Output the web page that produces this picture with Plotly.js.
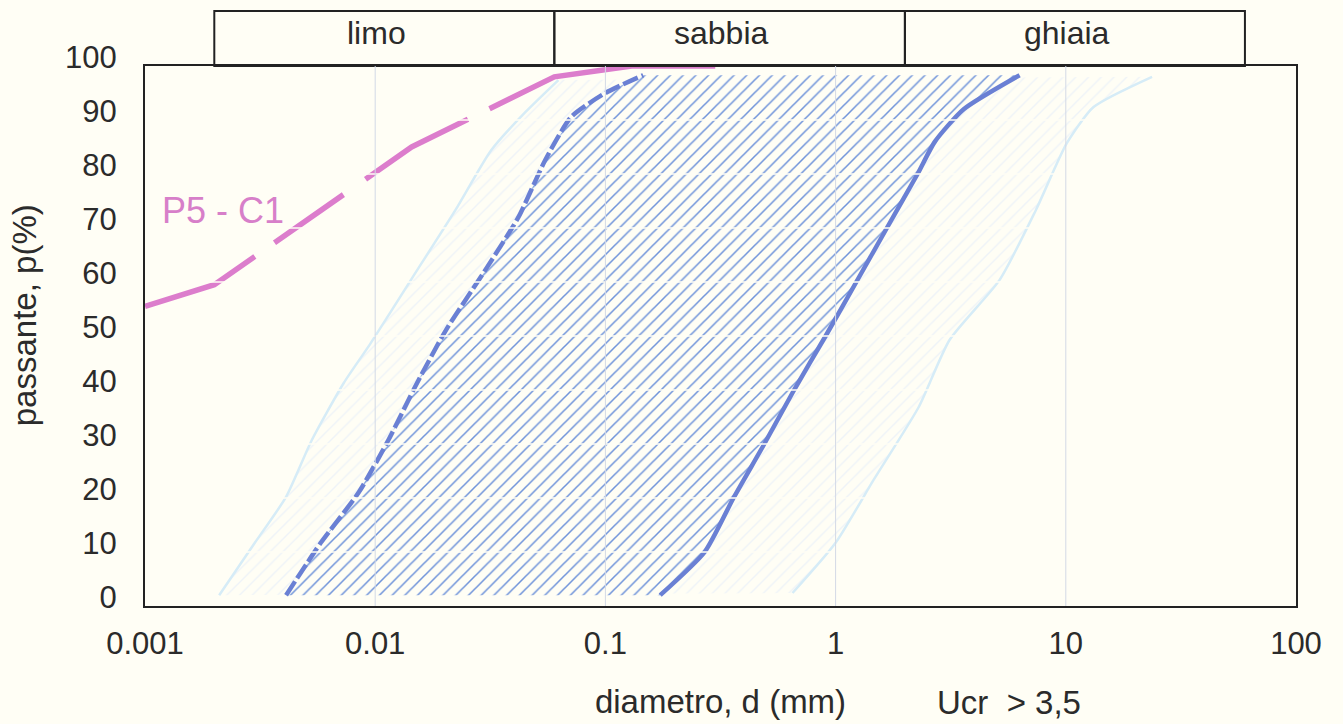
<!DOCTYPE html>
<html>
<head>
<meta charset="utf-8">
<script src="https://cdn.plot.ly/plotly-3.0.1.min.js"></script>
<style>
html,body{margin:0;padding:0;background:#fffef5;}
#chart{width:1343px;height:724px;}
</style>
</head>
<body>
<div id="chart"></div>
<script>
// ---- tick labels ----
const xTickVals = [0.001, 0.01, 0.1, 1, 10, 100];
const xTickText = ['0.001', '0.01', '0.1', '1', '10', '100'];
const yTickVals = [0, 10, 20, 30, 40, 50, 60, 70, 80, 90, 100];

// ---- soil classes (band header) ----
const bandNames = ['limo', 'sabbia', 'ghiaia'];
const bandEdges = [0.002, 0.06, 2, 60];

// ---- sample curve P5 - C1 ----
const sampleName = 'P5 - C1';
const sampleD = [0.001, 0.002, 0.0144, 0.06, 0.13, 0.3];
const sampleP = [55.5, 59.5, 85, 98, 100, 100];

// ---- critical envelope (Ucr > 3,5): fine / coarse boundary ----
const fineDarkD = [0.0041, 0.0058, 0.0085, 0.0114, 0.0152, 0.0203, 0.0307, 0.0419, 0.0548, 0.0711, 0.1, 0.146];
const fineDarkP = [2, 11.7, 21.1, 30.7, 41.3, 51.1, 62.8, 72, 82.6, 90.6, 95, 98.3];
const coarseDarkD = [0.173, 0.27, 0.36, 0.49, 0.66, 0.905, 1.23, 1.67, 2.27, 2.7, 3.6, 6.3];
const coarseDarkP = [2, 10, 20, 30, 40, 50, 60, 70, 80, 86, 92, 98.3];

// ---- outer (faint) envelope ----
const fineLightD = [0.0021, 0.003, 0.0041, 0.0053, 0.0073, 0.0095, 0.0146, 0.0223, 0.0319, 0.045, 0.0625];
const fineLightP = [2, 11.7, 20.2, 30.7, 41.3, 48.5, 61, 73.3, 84.4, 91.5, 97.4];
const coarseLightD = [0.65, 1.0, 1.46, 2.3, 3.13, 5.16, 7.41, 10.1, 13.2, 23.7];
const coarseLightP = [2.4, 11.7, 23.3, 36.9, 49.3, 60.4, 73.3, 85.7, 92.4, 98];

const note = 'Ucr&nbsp;&nbsp;&gt; 3,5';

const BG = '#fffef5';
const FONT = 'Liberation Sans, Arial, sans-serif';
const TXT = '#2b2b2b';

const traces = [
  { // faint outer hatch
    x: fineLightD.concat(coarseLightD.slice().reverse()),
    y: fineLightP.concat(coarseLightP.slice().reverse()),
    mode: 'lines', line: {width: 0}, fill: 'toself',
    fillcolor: BG,
    fillpattern: {shape: '/', size: 9, solidity: 0.15, fgcolor: '#eef3f8', bgcolor: BG},
    hoverinfo: 'skip'
  },
  { // inner hatched envelope
    x: fineDarkD.concat(coarseDarkD.slice().reverse()),
    y: fineDarkP.concat(coarseDarkP.slice().reverse()),
    mode: 'lines', line: {width: 0}, fill: 'toself',
    fillcolor: BG,
    fillpattern: {shape: '/', size: 9, solidity: 0.17, fgcolor: '#6f93da', bgcolor: BG},
    hoverinfo: 'skip'
  },
  {x: fineLightD, y: fineLightP, mode: 'lines', line: {color: '#d6ecf7', width: 2.5, shape: 'spline', smoothing: 0.6}, hoverinfo: 'skip'},
  {x: coarseLightD, y: coarseLightP, mode: 'lines', line: {color: '#d6ecf7', width: 2.5, shape: 'spline', smoothing: 0.6}, hoverinfo: 'skip'},
  {x: fineDarkD, y: fineDarkP, mode: 'lines', line: {color: '#6a80d4', width: 4.5, dash: '16px,4px', shape: 'spline', smoothing: 0.6}},
  {x: coarseDarkD, y: coarseDarkP, mode: 'lines', line: {color: '#6a80d4', width: 4.5, shape: 'spline', smoothing: 0.6}},
  {x: sampleD, y: sampleP, mode: 'lines', name: sampleName,
   line: {color: '#dc7dcc', width: 5.5, dash: '122px,24px,84px,27px,119px,24px,400px'}}
];

const shapes = [];
// band header boxes
for (let i = 0; i < bandNames.length; i++) {
  shapes.push({type: 'rect', xref: 'x', yref: 'paper', x0: bandEdges[i], x1: bandEdges[i + 1],
    y0: 1.0, y1: 1.102, line: {color: '#222', width: 2}, fillcolor: 'rgba(0,0,0,0)', layer: 'above'});
}
// gridlines drawn over the hatch
yTickVals.slice(1, -1).forEach(v => shapes.push({type: 'line', xref: 'paper', yref: 'y', x0: 0, x1: 1, y0: v, y1: v,
  line: {color: BG, width: 1.5}, layer: 'above'}));
xTickVals.slice(1, -1).forEach(v => shapes.push({type: 'line', xref: 'x', yref: 'paper', x0: v, x1: v, y0: 0, y1: 1,
  line: {color: '#d3d9e6', width: 1}, layer: 'above'}));

const annotations = [];
for (let i = 0; i < bandNames.length; i++) {
  annotations.push({xref: 'x', yref: 'paper',
    x: (Math.log10(bandEdges[i]) + Math.log10(bandEdges[i + 1])) / 2, y: 1.061,
    xshift: -8, text: bandNames[i], showarrow: false,
    font: {family: FONT, size: 32, color: TXT}, xanchor: 'center', yanchor: 'middle'});
}
annotations.push({xref: 'x', yref: 'y', x: Math.log10(0.00218), y: 73.3, text: sampleName, showarrow: false,
  font: {family: FONT, size: 36, color: '#d77fc9'}, xanchor: 'center', yanchor: 'middle'});
annotations.push({xref: 'paper', yref: 'paper', x: -0.104, y: 0.539, text: 'passante, p(%)', textangle: -90,
  showarrow: false, font: {family: FONT, size: 33, color: TXT}, xanchor: 'center', yanchor: 'middle'});
annotations.push({xref: 'paper', yref: 'paper', x: 0.686, y: -0.178, text: note, showarrow: false,
  font: {family: FONT, size: 33, color: TXT}, xanchor: 'left', yanchor: 'middle'});

const layout = {
  width: 1343, height: 724,
  margin: {l: 145, r: 47, t: 66, b: 118},
  paper_bgcolor: BG, plot_bgcolor: BG,
  showlegend: false,
  font: {family: FONT, color: TXT},
  xaxis: {
    type: 'log', range: [-3, 2], tickvals: xTickVals, ticktext: xTickText,
    showgrid: false, zeroline: false, showline: true, mirror: true, linecolor: '#222', linewidth: 2,
    ticks: '', tickfont: {family: FONT, size: 31, color: TXT}, ticklabelstandoff: 9,
    title: {text: 'diametro, d (mm)', font: {family: FONT, size: 33, color: TXT}, standoff: 30},
    automargin: false
  },
  yaxis: {
    range: [0, 100], tickvals: yTickVals,
    showgrid: false, zeroline: false, showline: true, mirror: true, linecolor: '#222', linewidth: 2,
    ticks: '', tickfont: {family: FONT, size: 31, color: TXT}, ticklabelshift: -9, ticklabelstandoff: 20,
    automargin: false
  },
  shapes: shapes,
  annotations: annotations
};

Plotly.newPlot('chart', traces, layout, {displayModeBar: false, staticPlot: true});
</script>
</body>
</html>
